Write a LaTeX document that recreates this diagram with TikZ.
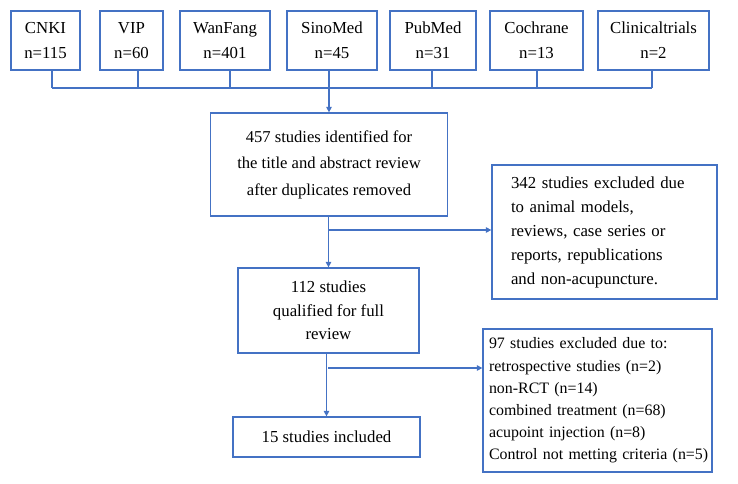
\documentclass[tikz,border=0pt]{standalone}
\usepackage{fontspec}
\setmainfont{Liberation Serif}
\usetikzlibrary{arrows.meta}
\definecolor{lineblue}{RGB}{68,114,196}
\tikzset{
  box/.style={draw=lineblue, line width=1.3pt, rectangle, inner sep=0pt, align=center, text=black},
  conn/.style={draw=lineblue, line width=1.3pt},
  arr/.style={conn, -{Triangle[length=5.5pt,width=5.5pt]}},
}
\begin{document}
\begin{tikzpicture}[x=1pt,y=-1pt]
\useasboundingbox (0,0) rectangle (738,483);
\fontsize{16.8}{25}\selectfont
% top boxes
\node[box, minimum width=69, minimum height=59] (cnki) at (45.5,40.5) {CNKI\\n=115};
\node[box, minimum width=63, minimum height=59] (vip) at (131.5,40.5) {VIP\\n=60};
\node[box, minimum width=90, minimum height=59] (wf) at (225,40.5) {WanFang\\n=401};
\node[box, minimum width=90, minimum height=59] (sino) at (332,40.5) {SinoMed\\n=45};
\node[box, minimum width=86, minimum height=59] (pub) at (433,40.5) {PubMed\\n=31};
\node[box, minimum width=93, minimum height=59] (coch) at (536.5,40.5) {Cochrane\\n=13};
\node[box, minimum width=111, minimum height=59] (clin) at (653.5,40.5) {Clinicaltrials\\n=2};
% stubs
\coordinate (s1) at (52,88);
\coordinate (s2) at (138,88);
\coordinate (s3) at (230,88);
\coordinate (s4) at (329,88);
\coordinate (s5) at (432,88);
\coordinate (s6) at (537,88);
\coordinate (s7) at (652,88);
\draw[conn] (s1 |- cnki.south) -- (s1);
\draw[conn] (s2 |- vip.south) -- (s2);
\draw[conn] (s3 |- wf.south) -- (s3);
\draw[conn] (s4 |- sino.south) -- (s4);
\draw[conn] (s5 |- pub.south) -- (s5);
\draw[conn] (s6 |- coch.south) -- (s6);
\draw[conn] (s7 |- clin.south) -- (s7);
\draw[conn] (s1) -- (s7);
% main column
\node[box, minimum width=237, minimum height=103, font=\fontsize{16.6}{26.5}\selectfont] (b457) at (329,164.5)
  {457 studies identified for\\the title and abstract review\\after duplicates removed};
\node[box, minimum width=181, minimum height=85, font=\fontsize{16.8}{23.5}\selectfont] (b112) at (328.5,310.5)
  {112 studies\\qualified for full\\review};
\node[box, minimum width=187, minimum height=40] (b15) at (326.5,437) {15 studies included};
\node[box, minimum width=225, minimum height=134, align=left, text width=187, inner xsep=19, font=\fontsize{16.8}{24}\selectfont] (b342) at (604.5,232)
  {342 studies excluded due\\to animal models,\\reviews, case series or\\reports, republications\\and non-acupuncture.};
\node[box, minimum width=229, minimum height=143, align=left, text width=217, inner xsep=6, font=\fontsize{15.9}{22.2}\selectfont] (b97) at (597.5,400.5)
  {97 studies excluded due to:\\retrospective studies (n=2)\\non-RCT (n=14)\\combined treatment (n=68)\\acupoint injection (n=8)\\\mbox{Control not metting criteria (n=5)}};
% arrows
\draw[arr] (s4) -- (s4 |- b457.north);
\draw[arr] (b457.south -| b112.north) -- (b112.north);
\draw[arr] (b112.south -| b15.north) -- (b15.north);
\coordinate (br1) at (328,230);
\coordinate (br2) at (328,368);
\draw[arr] (br1) -- (br1 -| b342.west);
\draw[arr] (br2) -- (br2 -| b97.west);
\end{tikzpicture}
\end{document}
